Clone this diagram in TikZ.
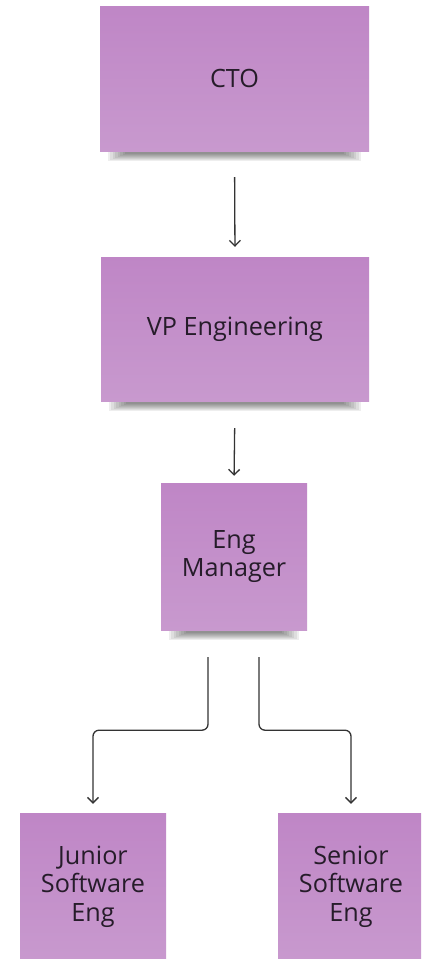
\documentclass[tikz,border=0pt]{standalone}
\usepackage{fontspec}
\setmainfont{Open Sans}
\usetikzlibrary{arrows.meta,backgrounds,calc}
\definecolor{notetop}{HTML}{BF86C6}
\definecolor{notebot}{HTML}{C899CE}
\definecolor{inkc}{HTML}{261C2A}
\definecolor{linec}{HTML}{333333}
\tikzset{
  note/.style={rectangle, inner sep=0pt, top color=notetop, bottom color=notebot,
    draw=none, text=inkc, align=center,
    font=\fontsize{25.2}{28.5}\selectfont},
  shadowlayer/.style={fill=black, opacity=0.065},
  conn/.style={draw=linec, line width=1.3pt, -{Straight Barb[length=5.5pt,width=11pt,line width=1.3pt]}},
}
\newcommand\noteshadow[1]{%
  \foreach \i in {0,...,7} {%
    \fill[shadowlayer] ([xshift={8pt+2.5pt*\i}, yshift=2pt]#1.south west)
      rectangle ([xshift={-8pt-2.5pt*\i}, yshift={-10pt+1.1pt*\i}]#1.south east);}}
\begin{document}
\begin{tikzpicture}[x=1pt,y=1pt]
\useasboundingbox (0,0) rectangle (421,-959);
\clip (0,0) rectangle (421,-959);
\node[note, minimum width=269pt, minimum height=145pt] (cto) at (234.5,-78.5) {CTO};
\node[note, minimum width=268pt, minimum height=144pt] (vp) at (235,-329) {VP Engineering};
\node[note, minimum width=146pt, minimum height=147pt] (eng) at (234,-556.5) {Eng\\Manager};
\node[note, minimum width=146pt, minimum height=147pt] (jun) at (93,-886.5) {Junior\\Software\\Eng};
\node[note, minimum width=146pt, minimum height=147pt] (sen) at (351,-886.5) {Senior\\Software\\Eng};
\begin{scope}[on background layer]
  \fill[white] (0,0) rectangle (421,-959);
  \noteshadow{cto}
  \noteshadow{vp}
  \noteshadow{eng}
\end{scope}
\draw[conn, shorten <=26pt, shorten >=10pt] (cto.south) -- (vp.north);
\draw[conn, shorten <=27pt, shorten >=7pt] (vp.south) -- (eng.north);
\draw[conn, rounded corners=6pt] ([xshift=-26pt,yshift=-27pt]eng.south) -- ++(0,-73) -| ([yshift=9pt]jun.north);
\draw[conn, rounded corners=6pt] ([xshift=25pt,yshift=-27pt]eng.south) -- ++(0,-73) -| ([yshift=9pt]sen.north);
\end{tikzpicture}
\end{document}
